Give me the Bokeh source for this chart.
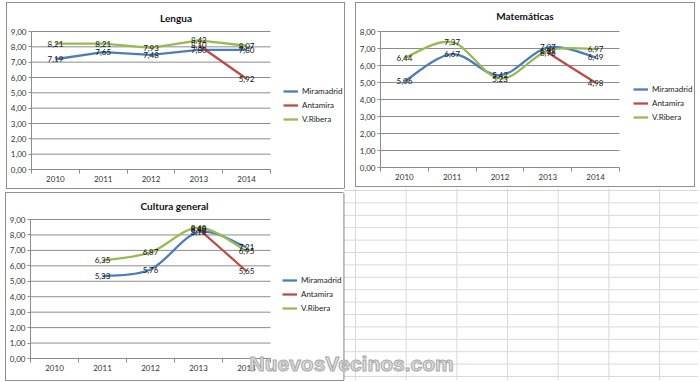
from bokeh.plotting import figure
from bokeh.layouts import column, row
from bokeh.models import Range1d, FixedTicker, Legend, LegendItem, Label
from bokeh.embed import file_html
from bokeh.resources import INLINE

# ---------------- data ----------------
years = ["2010", "2011", "2012", "2013", "2014"]
series_names = ["Miramadrid", "Antamira", "V.Ribera"]
series_colors = ["#4A7EBB", "#BE4B48", "#98B954"]

lengua_miramadrid = [7.19, 7.65, 7.48, 7.80, 7.80]
lengua_antamira = [None, None, None, 8.10, 5.92]
lengua_vribera = [8.21, 8.21, 7.93, 8.42, 8.07]

mate_miramadrid = [5.06, 6.67, 5.42, 7.07, 6.49]
mate_antamira = [None, None, None, 6.76, 4.98]
mate_vribera = [6.44, 7.37, 5.23, 6.88, 6.97]

cultura_miramadrid = [None, 5.33, 5.76, 8.18, 7.21]
cultura_antamira = [None, None, None, 8.40, 5.65]
cultura_vribera = [None, 6.35, 6.87, 8.48, 6.95]

FONT = "Lato"
GRID = "#8c8c8c"
WATERMARK = "NuevosVecinos.com"
WM_STYLE = dict(text=WATERMARK, text_align="left", text_baseline="middle",
                text_font="Liberation Sans", text_font_style="bold", text_font_size="21px",
                text_color="#dedede", text_outline_color="#a8a8a8")
WM_POS = (249, 363)   # page pixels


def fmt(v):
    return f"{v:.2f}".replace(".", ",")


def runs(vals):
    out, cur = [], []
    for i, v in enumerate(vals):
        if v is None:
            if cur:
                out.append(cur)
            cur = []
        else:
            cur.append((i + 1, v))
    if cur:
        out.append(cur)
    return out


def bezier_parts(pts):
    x0, y0, x1, y1, cx0, cy0, cx1, cy1 = ([] for _ in range(8))
    n = len(pts)
    for i in range(n - 1):
        p0 = pts[i - 1] if i > 0 else pts[i]
        p1 = pts[i]
        p2 = pts[i + 1]
        p3 = pts[i + 2] if i + 2 < n else pts[i + 1]
        x0.append(p1[0]); y0.append(p1[1])
        x1.append(p2[0]); y1.append(p2[1])
        cx0.append(p1[0] + (p2[0] - p0[0]) / 6.0)
        cy0.append(p1[1] + (p2[1] - p0[1]) / 6.0)
        cx1.append(p2[0] - (p3[0] - p1[0]) / 6.0)
        cy1.append(p2[1] - (p3[1] - p1[1]) / 6.0)
    return dict(x0=x0, y0=y0, x1=x1, y1=y1, cx0=cx0, cy0=cy0, cx1=cx1, cy1=cy1)


def make_chart(title, series, ymax, smooth, box, frame, title_xy, legend_x, legend_last_y,
               margin, watermark=False):
    n = len(years)
    bx0, by0, bx1, by1 = box
    fx0, fy0, fx1, fy1 = frame
    px_cat = (fx1 - fx0) / n
    px_unit = (fy1 - fy0) / ymax

    def dx(px):
        return 0.5 + (px - fx0) / px_cat

    def dy(py):
        return (fy1 - py) / px_unit

    width, height = bx1 - bx0, by1 - by0
    p = figure(width=width, height=height, output_backend="svg", toolbar_location=None,
               x_range=Range1d(dx(bx0), dx(bx1)), y_range=Range1d(dy(by1), dy(by0)),
               min_border=0, margin=margin, styles={"outline": "1px solid #8f8f8f"})
    p.outline_line_color = None
    p.background_fill_color = "white"
    p.border_fill_color = "white"
    p.grid.visible = False

    yt = list(range(0, ymax + 1))
    p.yaxis.fixed_location = 0.5
    p.yaxis.ticker = FixedTicker(ticks=yt)
    p.yaxis.major_label_overrides = {t: fmt(t) for t in yt}
    p.yaxis.axis_line_color = None
    p.yaxis.major_tick_out = 3
    p.yaxis.major_tick_in = 0
    p.yaxis.minor_tick_line_color = None
    p.yaxis.major_label_standoff = 2
    p.yaxis.major_tick_line_color = GRID

    xt = list(range(1, n + 1))
    p.xaxis.fixed_location = 0
    p.xaxis.ticker = FixedTicker(ticks=xt, minor_ticks=[i + 0.5 for i in range(0, n + 1)])
    p.xaxis.major_label_overrides = {i + 1: y for i, y in enumerate(years)}
    p.xaxis.axis_line_color = None
    p.xaxis.major_tick_line_color = None
    p.xaxis.major_tick_out = 0
    p.xaxis.major_tick_in = 0
    p.xaxis.minor_tick_out = 4
    p.xaxis.minor_tick_in = 0
    p.xaxis.minor_tick_line_color = GRID
    p.xaxis.major_label_standoff = 2

    for ax in (p.xaxis, p.yaxis):
        ax.major_label_text_font = FONT
        ax.major_label_text_font_size = "8px"
        ax.major_label_text_color = "#333333"

    # gridlines and axis line over the category area only
    p.segment(x0=[0.5] * len(yt), y0=yt, x1=[n + 0.5] * len(yt), y1=yt, line_color=GRID, line_width=1)
    p.segment(x0=[0.5], y0=[0], x1=[0.5], y1=[ymax], line_color=GRID, line_width=1)

    items = []
    for name, vals, col in zip(series_names, series, series_colors):
        for r in runs(vals):
            if smooth and len(r) > 1:
                p.bezier(line_color=col, line_width=2.3, **bezier_parts(r))
            else:
                p.line([a for a, _ in r], [b for _, b in r], line_color=col, line_width=2.3)
        key = p.line([1], [float("nan")], line_color=col, line_width=2.3)
        items.append(LegendItem(label=name, renderers=[key]))

    for name, vals, col in zip(series_names, series, series_colors):
        xs = [i + 1 for i, v in enumerate(vals) if v is not None]
        ys = [v for v in vals if v is not None]
        p.text(x=xs, y=ys, text=[fmt(v) for v in ys], text_align="center",
               text_baseline="middle", text_font_size="8px", text_color="#111111",
               text_font={"value": FONT})

    legend = Legend(items=items, location=(legend_x - bx0, by1 - (legend_last_y + 5)),
                    padding=0, margin=0, spacing=4, label_height=10, glyph_height=10,
                    glyph_width=15, label_standoff=4, label_text_font=FONT,
                    label_text_font_size="8px", label_text_color="#222222",
                    border_line_color=None, background_fill_alpha=0)
    p.add_layout(legend)

    p.add_layout(Label(x=dx(title_xy[0]), y=dy(title_xy[1]), text=title, text_align="center",
                       text_baseline="middle", text_font=FONT, text_font_style="bold",
                       text_font_size="10px", text_color="#111111"))
    if watermark:
        p.add_layout(Label(x=dx(WM_POS[0]), y=dy(WM_POS[1]), **WM_STYLE))
    return p


f1 = make_chart("Lengua", [lengua_miramadrid, lengua_antamira, lengua_vribera], 9, False,
                box=(7, 3, 344, 188), frame=(31, 31, 270, 169), title_xy=(175.5, 17),
                legend_x=283, legend_last_y=119, margin=(3, 0, 0, 7))
f2 = make_chart("Matemáticas", [mate_miramadrid, mate_antamira, mate_vribera], 8, True,
                box=(356, 3, 694, 186), frame=(380, 31, 619, 167), title_xy=(524.5, 15),
                legend_x=633, legend_last_y=117, margin=(3, 0, 0, 12))
f3 = make_chart("Cultura general", [cultura_miramadrid, cultura_antamira, cultura_vribera], 9, True,
                box=(6, 193, 343, 380), frame=(30, 219, 270, 358), title_xy=(174, 205),
                legend_x=282, legend_last_y=308, margin=(5, 0, 0, 6), watermark=True)

# ---------------- spreadsheet area right of chart 3 (page pixel coordinates) ----------------
BG_X0, BG_X1, BG_Y0, BG_Y1 = 343, 698, 188, 380
bg = figure(width=BG_X1 - BG_X0, height=BG_Y1 - BG_Y0, output_backend="svg", toolbar_location=None,
            x_range=Range1d(BG_X0, BG_X1), y_range=Range1d(BG_Y1, BG_Y0),
            x_axis_type=None, y_axis_type=None, min_border=0)
bg.outline_line_color = None
bg.grid.visible = False
cols = [51 + 50.67 * k for k in range(6, 14)]
rws = [190 + 12.4 * k for k in range(0, 16)]
bg.segment(x0=cols, y0=[BG_Y0] * len(cols), x1=cols, y1=[BG_Y1] * len(cols),
           line_color="#d9d9d9", line_width=1)
bg.segment(x0=[BG_X0] * len(rws), y0=rws, x1=[BG_X1] * len(rws), y1=rws,
           line_color="#d9d9d9", line_width=1)
bg.segment(x0=[BG_X0 + 0.5], y0=[193], x1=[BG_X0 + 0.5], y1=[BG_Y1], line_color="#8f8f8f", line_width=1)
bg.add_layout(Label(x=WM_POS[0], y=WM_POS[1], **WM_STYLE))

layout = column(row(f1, f2, spacing=0), row(f3, bg, spacing=0), spacing=0)

open("out.html", "w").write(file_html(layout, INLINE))
